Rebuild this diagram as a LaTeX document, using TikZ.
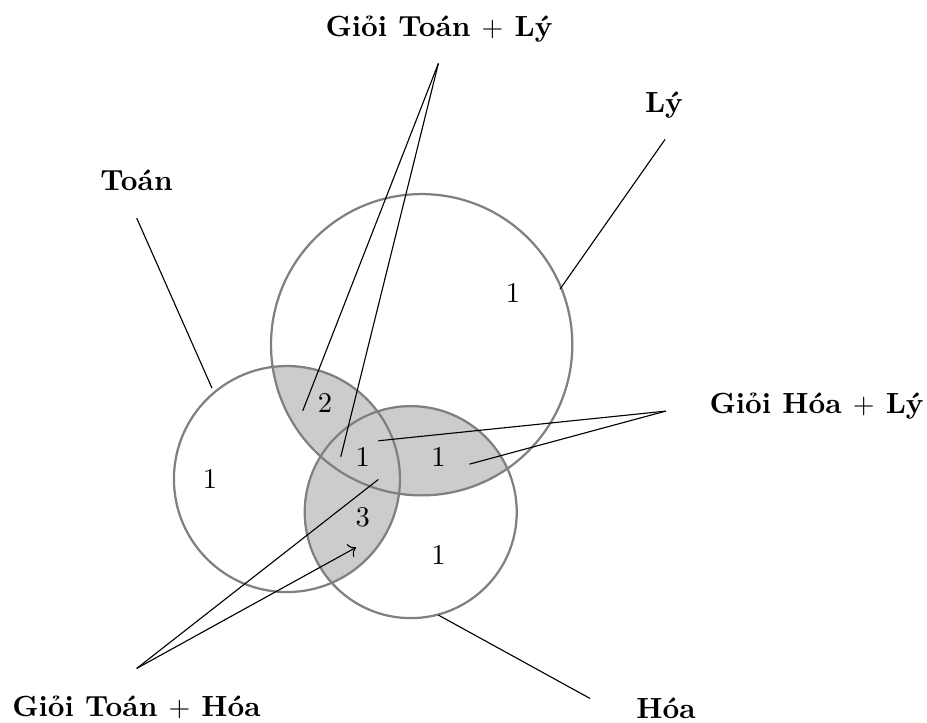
\documentclass[tikz,border=0pt]{standalone}
\usepackage{fontspec}
\usetikzlibrary{positioning, arrows.meta}
\tikzset{
	setcirc/.style={draw=gray, line width=0.8pt},
	shadefill/.style={fill=gray!40},
	setlbl/.style={font=\fontsize{10.4pt}{12.5pt}\selectfont\bfseries, anchor=base, inner sep=2pt},
	countlbl/.style={font=\fontsize{10.2pt}{12pt}\selectfont, inner sep=1pt},
	pointer/.style={draw=black, line width=0.4pt}
}

\begin{document}
\begin{tikzpicture}
	\useasboundingbox (0,0) rectangle (11.63,9.06);
	\coordinate (cToan) at (3.60,3.05);
	\coordinate (cLy) at (5.29,4.735);
	\coordinate (cHoa) at (5.153,2.635);
	\begin{scope}
		\clip (cToan) circle (1.418);
		\fill[shadefill] (cLy) circle (1.89);
		\fill[shadefill] (cHoa) circle (1.33);
	\end{scope}
	\begin{scope}
		\clip (cLy) circle (1.89);
		\fill[shadefill] (cHoa) circle (1.33);
	\end{scope}
	\draw[setcirc] (cLy) circle (1.89);
	\draw[setcirc] (cToan) circle (1.418);
	\draw[setcirc] (cHoa) circle (1.33);

	\node[countlbl] (nLy) at (6.437,5.383) {1};
	\node[countlbl] (nToanLy) at (4.078,4.002) {2};
	\node[countlbl] (nAll) at (4.55,3.329) {1};
	\node[countlbl] (nHoaLy) at (5.5,3.329) {1};
	\node[countlbl] (nToan) at (2.635,3.049) {1};
	\node[countlbl] (nToanHoa) at (4.55,2.576) {3};
	\node[countlbl] (nHoa) at (5.5,2.095) {1};

	\node[setlbl] (lToanLy) at (5.508,8.607) {Giỏi Toán $+$ Lý};
	\node[setlbl] (lLy) at (8.33,7.654) {Lý};
	\node[setlbl] (lToan) at (1.713,6.675) {Toán};
	\node[setlbl] (lHoaLy) at (10.245,3.877) {Giỏi Hóa $+$ Lý};
	\node[setlbl] (lToanHoa) at (1.713,0.067) {Giỏi Toán $+$ Hóa};
	\node[setlbl] (lHoa) at (8.356,0.05) {Hóa};

	\coordinate (aToan) at (1.715,6.324);
	\coordinate (eToan) at (2.66,4.19);
	\coordinate (aLy) at (8.344,7.311);
	\coordinate (eLy) at (7.026,5.433);
	\coordinate (aToanLy) at (5.5,8.264);
	\coordinate (eToanLy1) at (3.798,3.906);
	\coordinate (eToanLy2) at (4.275,3.329);
	\coordinate (aHoaLy) at (8.352,3.902);
	\coordinate (eHoaLy1) at (4.747,3.53);
	\coordinate (eHoaLy2) at (5.889,3.237);
	\coordinate (aToanHoa) at (1.715,0.674);
	\coordinate (eToanHoa1) at (4.747,3.045);
	\coordinate (eToanHoa2) at (4.467,2.192);
	\coordinate (aHoa) at (5.5,1.343);
	\coordinate (eHoa) at (7.403,0.297);

	\foreach \a/\b in {aToan/eToan, aLy/eLy, aToanLy/eToanLy1, aToanLy/eToanLy2,
			aHoaLy/eHoaLy1, aHoaLy/eHoaLy2, aToanHoa/eToanHoa1, aHoa/eHoa}
		\draw[pointer] (\a) -- (\b);
	\draw[pointer, ->] (aToanHoa) -- (eToanHoa2);
\end{tikzpicture}
\end{document}
